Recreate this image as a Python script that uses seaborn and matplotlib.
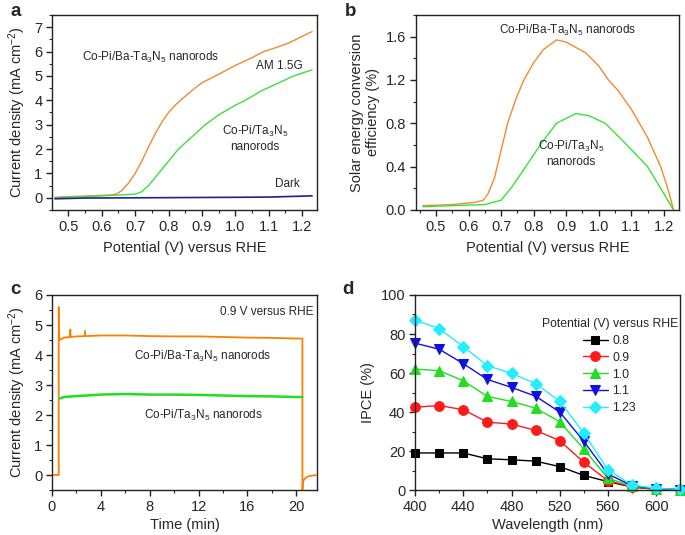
import numpy as np
import pandas as pd
import matplotlib
matplotlib.use("Agg")
import matplotlib.pyplot as plt
import seaborn as sns
from matplotlib.ticker import MultipleLocator, FormatStrFormatter

# ---- panel a: J-V curves ----
jv_ba_v = [0.46, 0.50, 0.55, 0.60, 0.63, 0.645, 0.66, 0.68, 0.70, 0.72, 0.74, 0.76, 0.78, 0.80, 0.82,
           0.84, 0.87, 0.90, 0.945, 1.00, 1.05, 1.085, 1.12, 1.16, 1.20, 1.23]
jv_ba_j = [0.02, 0.05, 0.07, 0.10, 0.12, 0.16, 0.30, 0.60, 1.00, 1.50, 2.08, 2.62, 3.10, 3.50, 3.80,
           4.05, 4.40, 4.72, 5.03, 5.43, 5.75, 6.00, 6.15, 6.35, 6.62, 6.82]
jv_ta_v = [0.46, 0.50, 0.55, 0.60, 0.65, 0.70, 0.72, 0.74, 0.77, 0.80, 0.83, 0.87, 0.91, 0.95,
           1.00, 1.03, 1.08, 1.12, 1.175, 1.23]
jv_ta_j = [0.00, 0.03, 0.05, 0.08, 0.11, 0.15, 0.25, 0.50, 1.00, 1.50, 2.00, 2.50, 3.00, 3.40,
           3.80, 4.00, 4.40, 4.65, 5.00, 5.25]
dark_v = [0.46, 0.55, 0.70, 0.85, 1.00, 1.10, 1.18, 1.23]
dark_j = [-0.04, -0.01, 0.00, 0.01, 0.02, 0.03, 0.06, 0.08]

# ---- panel b: solar energy conversion efficiency ----
eff_ba_v = [0.46, 0.55, 0.62, 0.645, 0.66, 0.68, 0.70, 0.72, 0.745, 0.77, 0.80, 0.83, 0.87, 0.90,
            0.96, 1.00, 1.03, 1.06, 1.10, 1.15, 1.19, 1.21, 1.23]
eff_ba = [0.04, 0.05, 0.07, 0.09, 0.15, 0.30, 0.55, 0.80, 1.02, 1.20, 1.36, 1.48, 1.57, 1.55,
          1.45, 1.33, 1.20, 1.10, 0.93, 0.67, 0.40, 0.22, 0.00]
eff_ta_v = [0.46, 0.55, 0.65, 0.70, 0.73, 0.76, 0.78, 0.82, 0.87, 0.93, 0.97, 1.02, 1.08, 1.15,
            1.20, 1.23]
eff_ta = [0.03, 0.04, 0.05, 0.09, 0.20, 0.33, 0.42, 0.60, 0.80, 0.89, 0.87, 0.80, 0.62, 0.40,
          0.15, 0.00]

# ---- panel c: stability at 0.9 V ----
t_ba = [0.0, 0.55, 0.55, 0.60, 1.0, 1.49, 1.50, 1.51, 2.0, 2.69, 2.70, 2.71, 4.0, 6.0, 8.0, 10.0,
        12.0, 14.0, 16.0, 18.0, 20.0, 20.5, 20.5, 20.55, 20.8, 21.0, 21.3, 21.6]
j_ba = [0.0, 0.0, 5.6, 4.50, 4.58, 4.60, 4.85, 4.60, 4.62, 4.63, 4.80, 4.63, 4.65, 4.65, 4.63, 4.62,
        4.62, 4.60, 4.58, 4.57, 4.55, 4.55, -0.50, -0.20, -0.08, -0.04, -0.02, 0.0]
t_ta = [0.6, 1.0, 2.0, 4.0, 6.0, 8.0, 10.0, 12.0, 14.0, 16.0, 18.0, 20.0, 20.5]
j_ta = [2.55, 2.60, 2.63, 2.68, 2.70, 2.68, 2.68, 2.67, 2.65, 2.63, 2.62, 2.60, 2.60]

# ---- panel d: IPCE ----
wavelength = [400, 420, 440, 460, 480, 500, 520, 540, 560, 580, 600, 620]
ipce_08 = [19.0, 19.0, 19.0, 16.0, 15.5, 14.8, 12.0, 7.5, 4.3, 1.5, 0.4, 0.2]
ipce_09 = [42.5, 43.3, 41.2, 34.8, 33.8, 30.6, 25.3, 14.2, 4.8, 1.6, 0.5, 0.2]
ipce_10 = [62.0, 61.2, 56.0, 48.0, 45.4, 42.0, 35.0, 21.0, 6.0, 2.0, 0.6, 0.2]
ipce_11 = [75.3, 72.2, 64.8, 56.7, 52.6, 48.1, 40.0, 25.0, 8.2, 2.2, 0.7, 0.2]
ipce_123 = [87.0, 82.8, 73.5, 63.8, 59.8, 54.6, 45.5, 29.2, 10.3, 2.6, 0.8, 0.3]
potentials = ["0.8", "0.9", "1.0", "1.1", "1.23"]

sns.set_style("ticks")
plt.rcParams["font.family"] = ["Liberation Sans", "DejaVu Sans"]
plt.rcParams["mathtext.default"] = "regular"
plt.rcParams["axes.linewidth"] = 1.0
plt.rcParams["axes.edgecolor"] = "#222222"

ORANGE = "#f5892e"
GREEN = "#3be03b"
NAVY = "#202090"
TICK_FS = 10.5
LABEL_FS = 10.5
NOTE_FS = 8.5

fig = plt.figure(figsize=(6.85, 5.35), dpi=100)
ax_a = fig.add_axes([0.0759, 0.6075, 0.387, 0.3645])
ax_b = fig.add_axes([0.607, 0.6075, 0.384, 0.3645])
ax_c = fig.add_axes([0.0759, 0.0841, 0.387, 0.3645])
ax_d = fig.add_axes([0.606, 0.0841, 0.387, 0.3645])


def style(ax, xmaj, xmin, ymaj, ymin):
    ax.xaxis.set_major_locator(MultipleLocator(xmaj))
    ax.xaxis.set_minor_locator(MultipleLocator(xmin))
    ax.yaxis.set_major_locator(MultipleLocator(ymaj))
    ax.yaxis.set_minor_locator(MultipleLocator(ymin))
    ax.tick_params(which="major", direction="out", length=4, width=1, labelsize=TICK_FS,
                   top=False, right=False, color="#222222", pad=3)
    ax.tick_params(which="minor", direction="out", length=2.5, width=0.8,
                   top=False, right=False, color="#222222")
    for s in ax.spines.values():
        s.set_visible(True)


# panel a
sns.lineplot(x=jv_ba_v, y=jv_ba_j, ax=ax_a, color=ORANGE, lw=1.0, sort=False, estimator=None)
sns.lineplot(x=jv_ta_v, y=jv_ta_j, ax=ax_a, color=GREEN, lw=1.0, sort=False, estimator=None)
sns.lineplot(x=dark_v, y=dark_j, ax=ax_a, color=NAVY, lw=1.2, sort=False, estimator=None)
ax_a.set_xlim(0.451, 1.245)
ax_a.set_ylim(-0.5, 7.5)
style(ax_a, 0.1, 0.05, 1, 0.5)
ax_a.set_xlabel("Potential (V) versus RHE", fontsize=LABEL_FS, labelpad=5)
ax_a.set_ylabel("Current density (mA cm$^{-2}$)", fontsize=LABEL_FS, labelpad=4)
ax_a.text(0.745, 5.75, "Co-Pi/Ba-Ta$_3$N$_5$ nanorods", fontsize=NOTE_FS, ha="center", va="center")
ax_a.text(1.133, 5.4, "AM 1.5G", fontsize=NOTE_FS, ha="center", va="center")
ax_a.text(1.058, 2.45, "Co-Pi/Ta$_3$N$_5$\nnanorods", fontsize=NOTE_FS, ha="center", va="center",
          linespacing=1.2)
ax_a.text(1.155, 0.57, "Dark", fontsize=NOTE_FS, ha="center", va="center")

# panel b
sns.lineplot(x=eff_ba_v, y=eff_ba, ax=ax_b, color=ORANGE, lw=1.0, sort=False, estimator=None)
sns.lineplot(x=eff_ta_v, y=eff_ta, ax=ax_b, color=GREEN, lw=1.0, sort=False, estimator=None)
ax_b.set_xlim(0.438, 1.246)
ax_b.set_ylim(0, 1.8)
style(ax_b, 0.1, 0.05, 0.4, 0.2)
ax_b.yaxis.set_major_formatter(FormatStrFormatter("%.1f"))
ax_b.set_xlabel("Potential (V) versus RHE", fontsize=LABEL_FS, labelpad=5)
ax_b.set_ylabel("Solar energy conversion\nefficiency (%)", fontsize=LABEL_FS, labelpad=4)
ax_b.text(0.905, 1.66, "Co-Pi/Ba-Ta$_3$N$_5$ nanorods", fontsize=NOTE_FS, ha="center", va="center")
ax_b.text(0.915, 0.52, "Co-Pi/Ta$_3$N$_5$\nnanorods", fontsize=NOTE_FS, ha="center", va="center",
          linespacing=1.2)

# panel c
sns.lineplot(x=t_ba, y=j_ba, ax=ax_c, color="#ff8000", lw=1.3, sort=False, estimator=None)
sns.lineplot(x=t_ta, y=j_ta, ax=ax_c, color="#22dd22", lw=1.8, sort=False, estimator=None)
ax_c.set_xlim(0, 21.7)
ax_c.set_ylim(-0.5, 6)
style(ax_c, 4, 2, 1, 0.5)
ax_c.set_xlabel("Time (min)", fontsize=LABEL_FS, labelpad=3)
ax_c.set_ylabel("Current density (mA cm$^{-2}$)", fontsize=LABEL_FS, labelpad=4)
ax_c.text(0.985, 0.913, "0.9 V versus RHE", transform=ax_c.transAxes, fontsize=NOTE_FS,
          ha="right", va="center")
ax_c.text(12.3, 3.95, "Co-Pi/Ba-Ta$_3$N$_5$ nanorods", fontsize=NOTE_FS, ha="center", va="center")
ax_c.text(12.4, 2.0, "Co-Pi/Ta$_3$N$_5$ nanorods", fontsize=NOTE_FS, ha="center", va="center")

# panel d
series = [ipce_08, ipce_09, ipce_10, ipce_11, ipce_123]
colors = ["black", "#ff1a1a", "#22dd22", "#1010e0", "#22eeff"]
markers = ["s", "o", "^", "v", "D"]
sizes = [6, 7, 7, 7, 6]
for vals, lab, col, mk, ms in zip(series, potentials, colors, markers, sizes):
    sns.lineplot(x=wavelength, y=vals, ax=ax_d, color=col, marker=mk, markersize=ms,
                 markeredgecolor=col, lw=1.0, label=lab, estimator=None, clip_on=False)
ax_d.set_xlim(400, 620)
ax_d.set_ylim(0, 100)
style(ax_d, 40, 20, 20, 10)
ax_d.set_xlabel("Wavelength (nm)", fontsize=LABEL_FS, labelpad=3)
ax_d.set_ylabel("IPCE (%)", fontsize=LABEL_FS, labelpad=4)
leg = ax_d.legend(title="Potential (V) versus RHE", loc="upper right", bbox_to_anchor=(1.0, 0.895),
                  frameon=False, fontsize=8.8, title_fontsize=8.8, labelspacing=0.4,
                  handlelength=2.0, handletextpad=0.4, borderaxespad=0, borderpad=0.2)
leg._legend_box.align = "center"

# panel letters
for lab, x, y in [("a", 0.015, 0.995), ("b", 0.503, 0.995), ("c", 0.015, 0.475), ("d", 0.5, 0.475)]:
    fig.text(x, y, lab, fontsize=13.5, fontweight="bold", ha="left", va="top")

fig.savefig("out.png", dpi=100)
